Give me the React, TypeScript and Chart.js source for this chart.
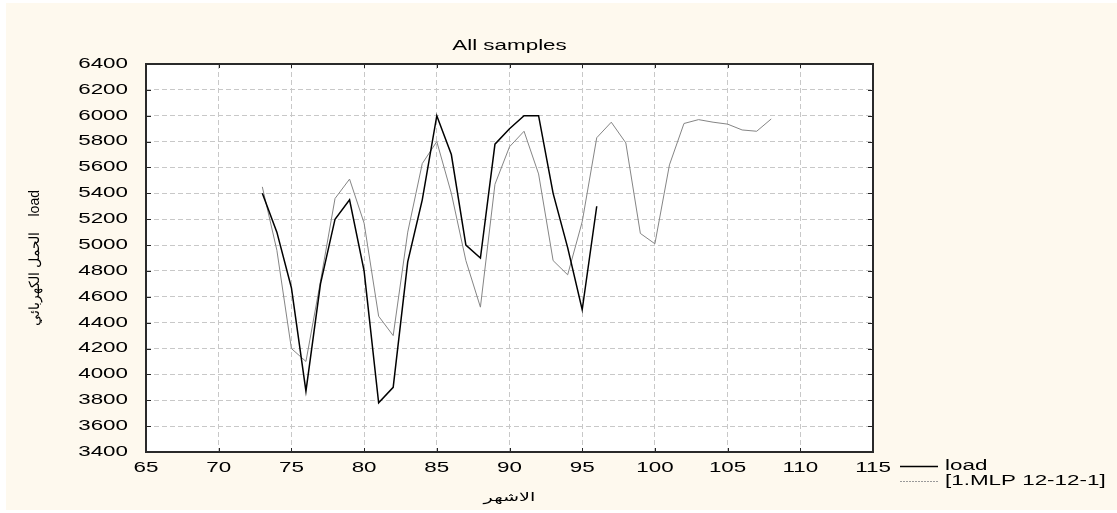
import React, { useEffect, useRef } from "react";
import { Chart, registerables } from "chart.js";

Chart.register(...registerables);

// ---- data ----
const TITLE = "All samples";
const X_TITLE = "الاشهر";
const Y_TITLE = "الحمل الكهربائي    load";
const LOAD_LABEL = "load";
const MODEL_LABEL = "[1.MLP 12-12-1]";

const loadMonths = [73, 74, 75, 76, 77, 78, 79, 80, 81, 82, 83, 84, 85, 86, 87, 88, 89, 90, 91, 92, 93, 94, 95, 96];
const loadValues = [5400, 5100, 4670, 3870, 4700, 5200, 5350, 4800, 3780, 3900, 4870, 5350, 6000, 5700, 5000, 4900, 5780, 5900, 6000, 6000, 5400, 4980, 4500, 5300];

const modelMonths = [73, 74, 75, 76, 77, 78, 79, 80, 81, 82, 83, 84, 85, 86, 87, 88, 89, 90, 91, 92, 93, 94, 95, 96, 97, 98, 99, 100, 101, 102, 103, 104, 105, 106, 107, 108];
const modelValues = [5450, 4960, 4200, 4100, 4720, 5360, 5510, 5170, 4450, 4300, 5100, 5630, 5800, 5400, 4880, 4520, 5470, 5760, 5880, 5550, 4880, 4770, 5180, 5830, 5950, 5790, 5090, 5010, 5620, 5940, 5970, 5950, 5935, 5890, 5880, 5975];

const X_MIN = 65;
const X_MAX = 115;
const X_STEP = 5;
const Y_MIN = 3400;
const Y_MAX = 6400;
const Y_STEP = 200;

// ---- style ----
const W = 1117;
const H = 513;
const FONT = "'Liberation Sans', Arial, sans-serif";
const STRETCH = 1.6;
const CREAM = "#fef9ee";

function patchCtx(ctx: any) {
  if (ctx.__stretched) return;
  ctx.__stretched = true;
  const origFill = ctx.fillText.bind(ctx);
  const origMeasure = ctx.measureText.bind(ctx);
  ctx.fillText = function (text: string, x: number, y: number) {
    const m = ctx.getTransform();
    if (Math.abs(m.b) > 1e-6 || Math.abs(m.c) > 1e-6) {
      origFill(text, x, y);
      return;
    }
    ctx.save();
    ctx.translate(x, y);
    ctx.scale(STRETCH, 1);
    origFill(text, 0, 0);
    ctx.restore();
  };
  ctx.measureText = function (text: string) {
    const r = origMeasure(text);
    return {
      width: r.width * STRETCH,
      actualBoundingBoxAscent: r.actualBoundingBoxAscent,
      actualBoundingBoxDescent: r.actualBoundingBoxDescent,
      actualBoundingBoxLeft: r.actualBoundingBoxLeft * STRETCH,
      actualBoundingBoxRight: r.actualBoundingBoxRight * STRETCH,
      fontBoundingBoxAscent: r.fontBoundingBoxAscent,
      fontBoundingBoxDescent: r.fontBoundingBoxDescent,
    };
  };
}

const bgPlugin = {
  id: "bg",
  beforeDraw(chart: any) {
    const { ctx, chartArea: a } = chart;
    ctx.save();
    ctx.fillStyle = "#ffffff";
    ctx.fillRect(0, 0, chart.width, chart.height);
    ctx.fillStyle = CREAM;
    ctx.fillRect(6, 3, chart.width - 6, chart.height - 6);
    ctx.fillStyle = "#ffffff";
    ctx.fillRect(a.left, a.top, a.right - a.left, a.bottom - a.top);
    ctx.restore();
  },
};

const legendPosPlugin = {
  id: "legendPos",
  afterLayout(chart: any) {
    const lg = chart.legend;
    if (!lg) return;
    const w = lg.width;
    lg.left = 899;
    lg.top = 458.5;
    lg.right = lg.left + w;
    lg.bottom = 513;
    lg.height = lg.bottom - lg.top;
  },
};

const framePlugin = {
  id: "frame",
  afterDatasetsDraw(chart: any) {
    const { ctx, chartArea: a, scales } = chart;
    ctx.save();
    ctx.strokeStyle = "#222222";
    ctx.lineWidth = 1;
    ctx.beginPath();
    scales.x.ticks.forEach((t: any) => {
      const px = Math.round(scales.x.getPixelForValue(t.value)) + 0.5;
      ctx.moveTo(px, a.bottom);
      ctx.lineTo(px, a.bottom - 4);
      ctx.moveTo(px, a.top);
      ctx.lineTo(px, a.top + 4);
    });
    scales.y.ticks.forEach((t: any) => {
      const py = Math.round(scales.y.getPixelForValue(t.value)) + 0.5;
      ctx.moveTo(a.left, py);
      ctx.lineTo(a.left + 5, py);
      ctx.moveTo(a.right, py);
      ctx.lineTo(a.right - 5, py);
    });
    ctx.stroke();
    ctx.lineWidth = 2;
    ctx.strokeStyle = "#2a2a2a";
    ctx.strokeRect(a.left, a.top, a.right - a.left, a.bottom - a.top);
    ctx.restore();
  },
};

export default function App() {
  const ref = useRef<HTMLCanvasElement | null>(null);

  useEffect(() => {
    const canvas = ref.current;
    if (!canvas) return;
    const ctx = canvas.getContext("2d");
    patchCtx(ctx);

    const chart = new Chart(ctx as any, {
      type: "line",
      data: {
        datasets: [
          {
            label: LOAD_LABEL,
            data: loadMonths.map((m, i) => ({ x: m, y: loadValues[i] })),
            borderColor: "#000000",
            backgroundColor: "#000000",
            borderWidth: 1.5,
            pointRadius: 0,
            tension: 0,
          },
          {
            label: MODEL_LABEL,
            data: modelMonths.map((m, i) => ({ x: m, y: modelValues[i] })),
            borderColor: "#858585",
            backgroundColor: "#858585",
            borderWidth: 1,
            pointRadius: 0,
            tension: 0,
          },
        ],
      },
      options: {
        animation: false,
        responsive: false,
        maintainAspectRatio: false,
        devicePixelRatio: 1,
        layout: { padding: { left: 0, right: W - 873, top: 0, bottom: 0 } },
        plugins: {
          title: {
            display: true,
            text: TITLE,
            fullSize: false,
            color: "#000000",
            font: { family: FONT, size: 14, weight: "normal", lineHeight: 1.2 },
            padding: { top: 37.6, bottom: 9.6 },
          },
          legend: {
            display: true,
            position: "chartArea" as any,
            align: "start",
            labels: {
              usePointStyle: true,
              pointStyle: "line",
              pointStyleWidth: 38,
              color: "#000000",
              padding: 1,
              font: { family: FONT, size: 14 },
              generateLabels: (c: any) => {
                const items = (Chart.defaults.plugins.legend.labels as any).generateLabels(c);
                if (items[1]) {
                  items[1].lineDash = [2, 1];
                  items[1].strokeStyle = "#9a9a9a";
                }
                return items;
              },
            },
          },
          tooltip: { enabled: false },
        },
        scales: {
          x: {
            type: "linear",
            min: X_MIN,
            max: X_MAX,
            ticks: {
              stepSize: X_STEP,
              padding: 8,
              color: "#000000",
              font: { family: FONT, size: 14 },
              callback: (v: any) => String(v),
            },
            grid: { color: "#c8c8c8", lineWidth: 1, drawTicks: false },
            border: { display: false, dash: [5, 3] },
            title: {
              display: true,
              text: X_TITLE,
              color: "#000000",
              font: { family: "'DejaVu Sans', sans-serif", size: 12 },
              padding: { top: 0, bottom: 8 },
            },
            afterFit: (s: any) => {
              s.height = H - 452;
            },
          },
          y: {
            type: "linear",
            min: Y_MIN,
            max: Y_MAX,
            ticks: {
              stepSize: Y_STEP,
              padding: 18,
              color: "#000000",
              font: { family: FONT, size: 14 },
              callback: (v: any) => String(v),
            },
            grid: { color: "#c8c8c8", lineWidth: 1, drawTicks: false },
            border: { display: false, dash: [5, 3] },
            title: {
              display: true,
              text: Y_TITLE,
              color: "#000000",
              font: { family: FONT, size: 14 },
              padding: { top: 27, bottom: 0 },
            },
            afterFit: (s: any) => {
              s.width = 146;
            },
          },
        },
      },
      plugins: [bgPlugin, legendPosPlugin, framePlugin],
    });

    return () => chart.destroy();
  }, []);

  return (
    <div style={{ position: "absolute", left: 0, top: 0, width: W, height: H }}>
      <canvas ref={ref} width={W} height={H} style={{ display: "block" }} />
    </div>
  );
}
